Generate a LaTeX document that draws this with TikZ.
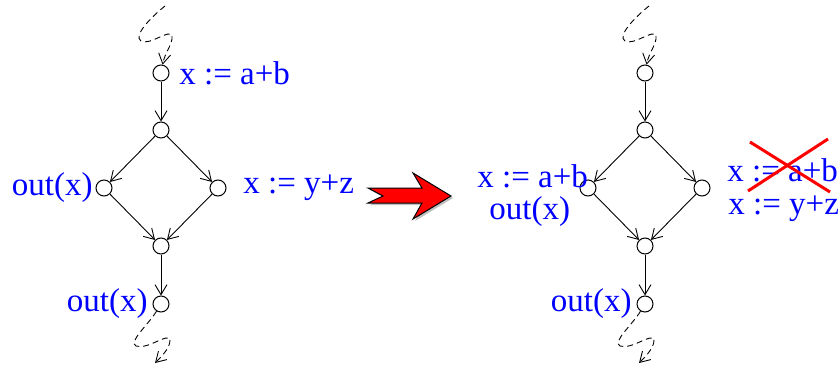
\documentclass[tikz,border=0pt]{standalone}
\usepackage{fontspec}
\setmainfont{Liberation Serif}
\usetikzlibrary{arrows.meta}
\begin{document}
\begin{tikzpicture}[x=0.5pt,y=-0.5pt,
  vtx/.style={circle,draw,line width=0.5pt,minimum size=8pt,inner sep=0pt},
  lbl/.style={text=blue,font=\fontsize{16.5}{18}\selectfont,inner sep=0pt},
  edge/.style={line width=0.45pt,-{Straight Barb[length=5pt,width=6pt]}},
  squig/.style={line width=0.45pt,dash pattern=on 3pt off 2pt}]
\useasboundingbox (0,0) rectangle (840,364);
\foreach \dx/\p in {0/L,484/R}{
  \begin{scope}[xshift=\dx*0.5pt]
    \node[vtx] (\p1) at (161,73) {};
    \node[vtx] (\p2) at (161,130) {};
    \node[vtx] (\p3) at (104,188) {};
    \node[vtx] (\p4) at (218,188) {};
    \node[vtx] (\p5) at (161,246) {};
    \node[vtx] (\p6) at (161,304) {};
    \coordinate (\p s) at (165,6);
    \coordinate (\p e) at (155,363);
    \draw[edge] (\p1) -- (\p2);
    \draw[edge] (\p2) -- (\p3);
    \draw[edge] (\p2) -- (\p4);
    \draw[edge] (\p3) -- (\p5);
    \draw[edge] (\p4) -- (\p5);
    \draw[edge] (\p5) -- (\p6);
    \draw[squig] (\p s) .. controls (150,18) and (133,36) .. (141,41)
      .. controls (150,46) and (170,28) .. (172,36);
    \draw[squig,-{Straight Barb[length=5pt,width=6pt]}] (172,36) .. controls (173,44) and (165,52) .. (\p1);
    \draw[squig] (\p6) .. controls (148,325) and (128,342) .. (136,346)
      .. controls (148,350) and (168,332) .. (170,340);
    \draw[squig,-{Straight Barb[length=5pt,width=6pt]}] (170,340) .. controls (170,348) and (162,356) .. (\p e);
  \end{scope}
}
% left graph labels
\node[lbl,anchor=west] (a1) at (179,73) {x := a+b};
\node[lbl,anchor=east] (a2) at (93,188) {out(x)};
\node[lbl,anchor=west] (a3) at (243,188) {x := y+z};
\node[lbl,anchor=east] (a4) at (148,304) {out(x)};
% right graph labels
\node[lbl,anchor=west] (b1) at (477,176) {x := a+b};
\node[lbl,anchor=west] (b2) at (489,212) {out(x)};
\node[lbl,anchor=west] (b3) at (727,170) {x := a+b};
\node[lbl,anchor=west] (b4) at (728,209) {x := y+z};
\node[lbl,anchor=east] (b5) at (632,304) {out(x)};
% red cross
\draw[red,line width=1.5pt] (750,142) -- (830,192);
\draw[red,line width=1.5pt] (748,191) -- (828,139);
% big red arrow
\fill[gray!50] (370,190) -- (424,190) -- (415,175) -- (453,198) -- (415,221) -- (424,205) -- (370,205) -- (385,198) -- cycle;
\filldraw[fill=red,draw=black,line width=0.5pt] (368,188) -- (422,188) -- (413,173) -- (451,196) -- (413,219) -- (422,203) -- (368,203) -- (383,196) -- cycle;
\end{tikzpicture}
\end{document}
